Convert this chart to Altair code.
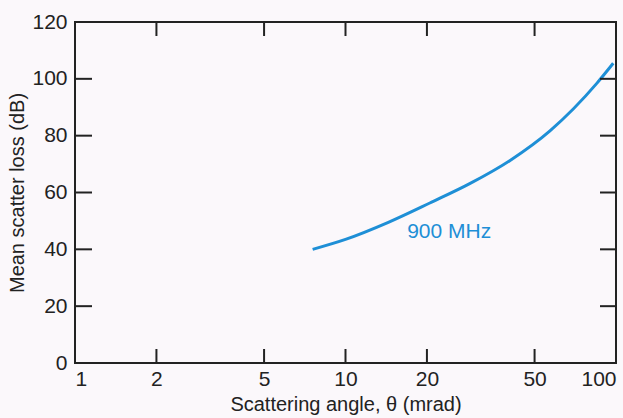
import altair as alt
import pandas as pd

# Curve
angle_mrad = [7.56, 10, 14.4, 20.5, 28.9, 40.6, 57.0, 84.9, 97.7]
loss_db = [40, 43.5, 49.5, 56.3, 63.2, 71.3, 81.7, 98.4, 105.5]

x_tick_vals = [1, 2, 5, 10, 20, 50, 100]
y_tick_vals = [0, 20, 40, 60, 80, 100, 120]
x_inner_ticks = [2, 5, 10, 20, 50]
y_inner_ticks = [20, 40, 60, 80, 100]

label_text = ["900 MHz"]
label_x = [16.9]
label_y = [46.2]

W, H = 541, 341
BLUE = "#1e8fd6"
INK = "#222222"
FONT = "Liberation Sans"

curve = pd.DataFrame({"angle": angle_mrad, "loss": loss_db})
xt = pd.DataFrame({"angle": x_inner_ticks})
yt = pd.DataFrame({"loss": y_inner_ticks})
lab = pd.DataFrame({"angle": label_x, "loss": label_y, "t": label_text})

xscale = alt.Scale(type="log", domain=[1, 100], nice=False)
yscale = alt.Scale(domain=[0, 120], nice=False)
xaxis = alt.Axis(values=x_tick_vals, format="d", title="Scattering angle, θ (mrad)",
                 labelPadding=5, titlePadding=5, labelFlush=True)
yaxis = alt.Axis(values=y_tick_vals, title="Mean scatter loss (dB)",
                 labelPadding=8, titlePadding=4)

X = alt.X("angle:Q", scale=xscale, axis=xaxis)
Y = alt.Y("loss:Q", scale=yscale, axis=yaxis)

line = alt.Chart(curve).mark_line(color=BLUE, strokeWidth=3, interpolate="monotone").encode(
    x=X, y=Y,
)

bottom_ticks = alt.Chart(xt).mark_rule(color=INK, strokeWidth=2).encode(
    x=X, y=alt.value(H), y2=alt.value(H - 14),
)
top_ticks = alt.Chart(xt).mark_rule(color=INK, strokeWidth=2).encode(
    x=X, y=alt.value(0), y2=alt.value(14),
)
left_ticks = alt.Chart(yt).mark_rule(color=INK, strokeWidth=2).encode(
    y=Y, x=alt.value(0), x2=alt.value(17),
)
right_ticks = alt.Chart(yt).mark_rule(color=INK, strokeWidth=2).encode(
    y=Y, x=alt.value(W), x2=alt.value(W - 16),
)

text = alt.Chart(lab).mark_text(color=BLUE, fontSize=21, font=FONT, align="left",
                                baseline="middle").encode(
    x=X, y=Y, text="t:N",
)

chart = alt.layer(line, bottom_ticks, top_ticks, left_ticks, right_ticks, text).properties(
    width=W, height=H,
    padding={"left": 75, "top": 22, "right": 7, "bottom": 55},
    autosize="none",
    background="#fbf8fb",
).configure_view(
    stroke=INK, strokeWidth=2, fill="#fbf8fb",
).configure_axis(
    domain=False, ticks=False, grid=False,
    labelFont=FONT, labelFontSize=21, labelColor=INK,
    titleFont=FONT, titleFontSize=20, titleFontWeight="normal", titleColor=INK,
)

chart.save("out.html", embed_options={"renderer": "svg", "actions": False})
